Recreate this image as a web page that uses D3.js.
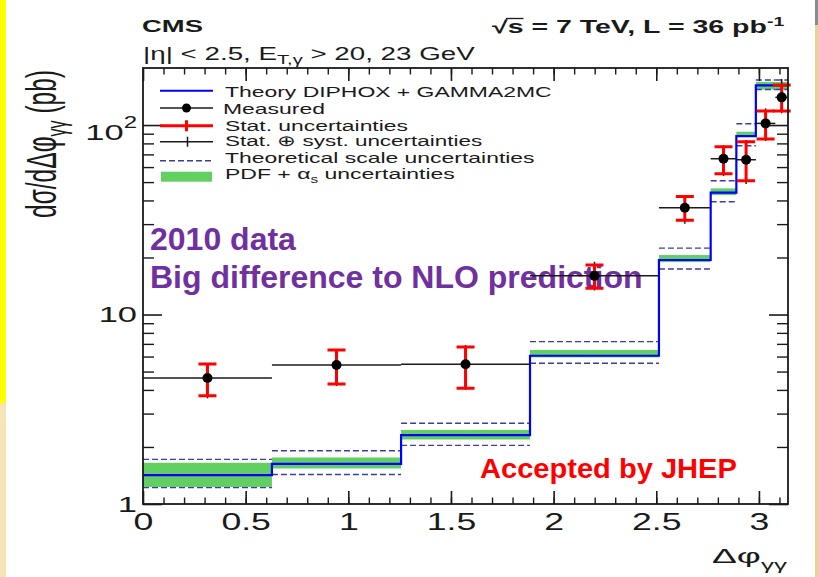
<!DOCTYPE html>
<html>
<head>
<meta charset="utf-8">
<script src="https://cdn.jsdelivr.net/npm/d3@7"></script>
<style>
body { margin: 0; background: #fff; }
svg { display: block; }
text { font-family: "Liberation Sans", Arial, Helvetica, sans-serif; }
</style>
</head>
<body>
<svg id="chart" width="818" height="577"></svg>
<script>
// bins of delta phi (gamma gamma)
var binEdges = [0, 0.628, 1.257, 1.885, 2.513, 2.765, 2.89, 2.985, 3.08, 3.1416];

// theory DIPHOX + GAMMA2MC (pb)
var theory    = [1.42, 1.63, 2.31, 6.06, 19.4, 44.0, 87.5, 162, 162];
var pdfLow    = [1.23, 1.54, 2.19, 5.94, 18.9, 42.7, 86.7, 154, 154];
var pdfHigh   = [1.65, 1.76, 2.46, 6.50, 20.6, 46.3, 92.2, 169, 169];
var scaleLow  = [1.22, 1.43, 2.04, 5.53, 17.4, 39.4, 77.8, 154, 154];
var scaleHigh = [1.72, 1.91, 2.67, 7.19, 22.4, 50.8, 101.6, 173, 173];

// measured
var measured = [4.62, 5.41, 5.46, 16.0, 36.6, 66.4, 65.6, 102, 140];
var statLow  = [3.73, 4.30, 4.08, 13.75, 31.4, 55.3, 50.8, 84.3, 118.6];
var statHigh = [5.48, 6.50, 6.74, 18.25, 41.9, 76.9, 81.6, 118.6, 162.6];
var totLow   = [3.61, 4.19, 4.00, 13.4, 30.1, 53.8, 48.9, 82.4, 115.3];
var totHigh  = [5.55, 6.58, 6.90, 19.0, 42.7, 78.3, 83.4, 122.5, 175];

var xTicks = [0, 0.5, 1, 1.5, 2, 2.5, 3];
var yTicks = [1, 10, 100];
var yMinor = [2, 3, 4, 5, 6, 7, 8, 9, 20, 30, 40, 50, 60, 70, 80, 90];

var ink = "#1a1a1a";
var L = 143, R = 788, T = 68, B = 504;
var svg = d3.select("#chart");

var x = d3.scaleLinear().domain([0, Math.PI]).range([L, R]);
var y = d3.scaleLog().domain([1, 200]).range([B, T]);

function fitText(x0, y0, width, size, weight, color, build) {
  var g = svg.append("g");
  var t = g.append("text").attr("font-size", size).attr("font-weight", weight).attr("fill", color);
  build(t);
  var bb = t.node().getBBox();
  var k = width / bb.width;
  g.attr("transform", "translate(" + (x0 - bb.x * k) + "," + y0 + ") scale(" + k + ",1)");
  return {g: g, t: t};
}

// page edges
svg.append("rect").attr("x", 0).attr("y", 0).attr("width", 818).attr("height", 577).attr("fill", "#fff");
svg.append("rect").attr("x", 0).attr("y", 0).attr("width", 6).attr("height", 403).attr("fill", "#ffff00");
svg.append("rect").attr("x", 0).attr("y", 403).attr("width", 6).attr("height", 174).attr("fill", "#f6e4b6");
svg.append("rect").attr("x", 815).attr("y", 0).attr("width", 3).attr("height", 25).attr("fill", "#8a8a8a");
svg.append("rect").attr("x", 815).attr("y", 25).attr("width", 3).attr("height", 552).attr("fill", "#ead19a");

// slide annotation under the plot
svg.append("text").attr("x", 150).attr("y", 250).attr("font-size", 32).attr("font-weight", "bold")
  .attr("fill", "#7030a0").text("2010 data");
svg.append("text").attr("x", 150).attr("y", 287.5).attr("font-size", 32).attr("font-weight", "bold")
  .attr("fill", "#7030a0").text("Big difference to NLO prediction");

var plot = svg.append("g");

// pdf band
plot.selectAll(".pdf").data(theory).enter().append("rect")
  .attr("x", function(d, i) { return x(binEdges[i]); })
  .attr("width", function(d, i) { return x(binEdges[i + 1]) - x(binEdges[i]); })
  .attr("y", function(d, i) { return y(pdfHigh[i]); })
  .attr("height", function(d, i) { return y(pdfLow[i]) - y(pdfHigh[i]); })
  .attr("fill", "#62cf62");

// scale uncertainties
[scaleLow, scaleHigh].forEach(function(arr) {
  plot.selectAll(null).data(arr).enter().append("line")
    .attr("x1", function(d, i) { return x(binEdges[i]); })
    .attr("x2", function(d, i) { return x(binEdges[i + 1]); })
    .attr("y1", function(d) { return y(d); })
    .attr("y2", function(d) { return y(d); })
    .attr("stroke", "#3c3ca8").attr("stroke-width", 1.4).attr("stroke-dasharray", "6,3");
});

// theory step
var stepPts = theory.map(function(d, i) { return [binEdges[i], d]; });
stepPts.push([binEdges[binEdges.length - 1], theory[theory.length - 1]]);
plot.append("path").datum(stepPts)
  .attr("d", d3.line().x(function(d) { return x(d[0]); }).y(function(d) { return y(d[1]); }).curve(d3.curveStepAfter))
  .attr("fill", "none").attr("stroke", "#0000ff").attr("stroke-width", 2.2);

// measured points
var pts = plot.selectAll(".pt").data(measured).enter().append("g");
pts.append("line")
  .attr("x1", function(d, i) { return x(binEdges[i]); })
  .attr("x2", function(d, i) { return x(binEdges[i + 1]); })
  .attr("y1", function(d) { return y(d); }).attr("y2", function(d) { return y(d); })
  .attr("stroke", ink).attr("stroke-width", 1.5);
pts.append("line")
  .attr("x1", function(d, i) { return x((binEdges[i] + binEdges[i + 1]) / 2); })
  .attr("x2", function(d, i) { return x((binEdges[i] + binEdges[i + 1]) / 2); })
  .attr("y1", function(d, i) { return y(totLow[i]); }).attr("y2", function(d, i) { return y(totHigh[i]); })
  .attr("stroke", ink).attr("stroke-width", 1.5);
pts.append("path")
  .attr("d", function(d, i) {
    var cx = x((binEdges[i] + binEdges[i + 1]) / 2), lo = y(statLow[i]), hi = y(statHigh[i]);
    return "M" + cx + "," + lo + "V" + hi + "M" + (cx - 9) + "," + hi + "H" + (cx + 9) +
      "M" + (cx - 9) + "," + lo + "H" + (cx + 9);
  })
  .attr("fill", "none").attr("stroke", "#ff0000").attr("stroke-width", 3);
pts.append("circle")
  .attr("cx", function(d, i) { return x((binEdges[i] + binEdges[i + 1]) / 2); })
  .attr("cy", function(d) { return y(d); })
  .attr("r", 5).attr("fill", "#000");

// axes
function styleAxis(g, w, keepText) {
  g.select(".domain").remove();
  g.selectAll(".tick line").attr("stroke", ink).attr("stroke-width", w);
  if (!keepText) g.selectAll(".tick text").remove();
}
var minorX = d3.range(1, 32).map(function(i) { return i / 10; });
var xb = svg.append("g").attr("transform", "translate(0," + B + ")")
  .call(d3.axisBottom(x).tickValues(xTicks).tickSize(-13).tickSizeOuter(0).tickPadding(10).tickFormat(d3.format("")));
styleAxis(xb, 1.6, true);
xb.selectAll(".tick text").attr("font-size", 23).attr("fill", ink).attr("font-family", null)
  .attr("transform", "scale(1.55,1)");
var xbm = svg.append("g").attr("transform", "translate(0," + B + ")")
  .call(d3.axisBottom(x).tickValues(minorX).tickSize(-6.5).tickSizeOuter(0));
styleAxis(xbm, 1.4);
var xt = svg.append("g").attr("transform", "translate(0," + T + ")")
  .call(d3.axisTop(x).tickValues(xTicks).tickSize(-13).tickSizeOuter(0));
styleAxis(xt, 1.6);
var xtm = svg.append("g").attr("transform", "translate(0," + T + ")")
  .call(d3.axisTop(x).tickValues(minorX).tickSize(-6.5).tickSizeOuter(0));
styleAxis(xtm, 1.4);

var yl = svg.append("g").attr("transform", "translate(" + L + ",0)")
  .call(d3.axisLeft(y).tickValues(yTicks).tickSize(-19).tickSizeOuter(0).tickFormat(d3.format("")));
styleAxis(yl, 1.6, true);
yl.selectAll(".tick text").attr("font-size", 23).attr("fill", ink).attr("font-family", null)
  .attr("x", 0).attr("transform", "translate(-6,0) scale(1.5,1)")
  .each(function(d) {
    if (d === 100) {
      var t = d3.select(this).text("10").attr("dy", "0.62em");
      t.append("tspan").attr("font-size", 16).attr("dy", "-0.75em").text("2");
    }
  });
var ylm = svg.append("g").attr("transform", "translate(" + L + ",0)")
  .call(d3.axisLeft(y).tickValues(yMinor).tickSize(-11).tickSizeOuter(0));
styleAxis(ylm, 1.4);
var yr = svg.append("g").attr("transform", "translate(" + R + ",0)")
  .call(d3.axisRight(y).tickValues(yTicks).tickSize(-19).tickSizeOuter(0));
styleAxis(yr, 1.6);
var yrm = svg.append("g").attr("transform", "translate(" + R + ",0)")
  .call(d3.axisRight(y).tickValues(yMinor).tickSize(-11).tickSizeOuter(0));
styleAxis(yrm, 1.4);

svg.append("rect").attr("x", L).attr("y", T).attr("width", R - L).attr("height", B - T)
  .attr("fill", "none").attr("stroke", ink).attr("stroke-width", 1.8);

// axis titles
var yt = svg.append("g").attr("transform", "translate(56,218) scale(1.6,1) rotate(-90)");
var yti = yt.append("g");
var ytt = yti.append("text").attr("font-size", 26).attr("fill", ink);
ytt.append("tspan").text("d\u03c3/d\u0394\u03c6");
ytt.append("tspan").attr("font-size", 17).attr("dy", 6).text("\u03b3\u03b3");
ytt.append("tspan").attr("dy", -6).text(" (pb)");
var yw = ytt.node().getBBox().width;
yti.attr("transform", "scale(" + (148 / yw) + ",1)");

fitText(712, 563, 75, 20, "normal", ink, function(t) {
  t.append("tspan").text("\u0394\u03c6");
  t.append("tspan").attr("font-size", 14).attr("dy", 7).text("\u03b3\u03b3");
});

// header
fitText(142, 32, 61, 16.5, "bold", ink, function(t) { t.text("CMS"); });
fitText(143, 60, 332, 18, "normal", ink, function(t) {
  t.append("tspan").text("|\u03b7| < 2.5, E");
  t.append("tspan").attr("font-size", 13).attr("dy", 4).text("T,\u03b3");
  t.append("tspan").attr("dy", -4).text(" > 20, 23 GeV");
});
var rs = fitText(492, 33, 293, 17.5, "bold", ink, function(t) {
  t.append("tspan").text("\u221as = 7 TeV, L = 36 pb");
  t.append("tspan").attr("font-size", 12).attr("dy", -7).text("-1");
});
var s0 = rs.t.node().getStartPositionOfChar(1).x, s1 = rs.t.node().getEndPositionOfChar(1).x;
rs.g.append("line").attr("x1", s0 - 1).attr("x2", s1).attr("y1", -14.5).attr("y2", -14.5)
  .attr("stroke", ink).attr("stroke-width", 1.3);

// legend
var legendLabels = ["Theory DIPHOX + GAMMA2MC", "Measured", "Stat. uncertainties",
  "Stat. \u2295 syst. uncertainties", "Theoretical scale uncertainties", "PDF + \u03b1s uncertainties"];
var legendY = [90.7, 108, 125.7, 141.7, 160.7, 176.7];
// [x, baseline, width]
var legendText = [[225, 97, 327], [223, 114, 102], [225, 131, 183], [225, 146, 258], [225, 163, 310], [225, 179, 230]];
var lg = svg.append("g");
lg.append("line").attr("x1", 160).attr("x2", 213).attr("y1", legendY[0]).attr("y2", legendY[0])
  .attr("stroke", "#0000ff").attr("stroke-width", 2);
lg.append("line").attr("x1", 160).attr("x2", 213).attr("y1", legendY[1]).attr("y2", legendY[1])
  .attr("stroke", ink).attr("stroke-width", 1.5);
lg.append("circle").attr("cx", 186.5).attr("cy", legendY[1]).attr("r", 4.5).attr("fill", "#000");
lg.append("path").attr("d", "M160," + legendY[2] + "H213M186.5," + (legendY[2] - 5.5) + "V" + (legendY[2] + 5.5))
  .attr("stroke", "#ff0000").attr("stroke-width", 3).attr("fill", "none");
lg.append("path").attr("d", "M160," + legendY[3] + "H213M187.5," + (legendY[3] - 5) + "V" + (legendY[3] + 5))
  .attr("stroke", ink).attr("stroke-width", 1.5).attr("fill", "none");
lg.append("line").attr("x1", 160).attr("x2", 213).attr("y1", legendY[4]).attr("y2", legendY[4])
  .attr("stroke", "#3c3ca8").attr("stroke-width", 1.4).attr("stroke-dasharray", "6,3");
lg.append("rect").attr("x", 161).attr("y", legendY[5] - 5).attr("width", 51).attr("height", 10).attr("fill", "#62cf62");

legendLabels.forEach(function(lab, i) {
  var p = legendText[i];
  fitText(p[0], p[1], p[2], 15, "normal", ink, function(t) {
    if (i === 5) {
      t.append("tspan").text("PDF + \u03b1");
      t.append("tspan").attr("font-size", 10).attr("dy", 4).text("s");
      t.append("tspan").attr("dy", -4).text(" uncertainties");
    } else {
      t.text(lab);
    }
  });
});

// slide annotation
fitText(480, 478, 257, 28, "bold", "#ff0000", function(t) { t.text("Accepted by JHEP"); });
</script>
</body>
</html>
